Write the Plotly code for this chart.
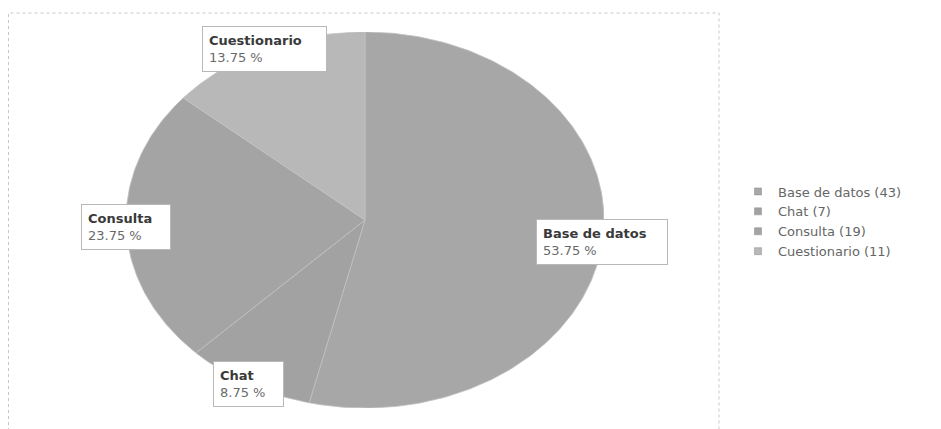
import numpy as np
import plotly.graph_objects as go

# ---- data ----
categories = ["Base de datos", "Chat", "Consulta", "Cuestionario"]
counts = [43, 7, 19, 11]
percent_labels = ["53.75 %", "8.75 %", "23.75 %", "13.75 %"]
legend_labels = ["Base de datos (43)", "Chat (7)", "Consulta (19)", "Cuestionario (11)"]

# ---- style ----
slice_colors = ["#a7a7a7", "#a2a2a2", "#a4a4a4", "#b8b8b8"]
label_box_widths = [132, 71, 90, 125]
OFF = 8  # page body margin
W, H = 941, 429
# page-pixel extents of the pie
PIE_L, PIE_R, PIE_T, PIE_B = 126, 604, 32, 408
ML, MT = PIE_L - OFF, PIE_T - OFF
MR = W - (PIE_R - OFF)
MB = H - (PIE_B - OFF)
PW, PH = PIE_R - PIE_L, PIE_B - PIE_T


def px_x(px):
    return (px - PIE_L) / PW


def px_y(py):
    return (PIE_B - py) / PH


fig = go.Figure()

total = float(sum(counts))
fractions = [c / total for c in counts]
start = 0.0
mids = []
for name, frac, col in zip(categories, fractions, slice_colors):
    end = start + frac
    t = np.linspace(start, end, max(int(frac * 400), 8)) * 2 * np.pi
    xs = np.concatenate([[0.0], np.sin(t), [0.0]])
    ys = np.concatenate([[0.0], np.cos(t), [0.0]])
    fig.add_trace(go.Scatter(
        x=xs, y=ys, mode="lines", fill="toself", fillcolor=col,
        line=dict(color="#c2c2c2", width=0.8), hoverinfo="skip",
        showlegend=False, name=name))
    mids.append((start + end) / 2 * 2 * np.pi)
    start = end

# legend entries
for lab, col in zip(legend_labels, slice_colors):
    fig.add_trace(go.Scatter(
        x=[None], y=[None], mode="markers", name=lab,
        marker=dict(symbol="square", size=7, color=col,
                    line=dict(color="#8a8a8a", width=0.5))))

# data labels at the slice mid-angle on the rim
PAD = 6
for name, pct, m, bw in zip(categories, percent_labels, mids, label_box_widths):
    fig.add_annotation(
        x=np.sin(m), y=np.cos(m), xref="x", yref="y",
        text=f"<b style='color:#3a3a3a'>{name}</b><br><span style='color:#6a6a6a'>{pct}</span>",
        showarrow=False, xanchor="center", yanchor="middle", align="left",
        width=bw - 2 * PAD - 2,
        font=dict(family="DejaVu Sans", size=13),
        bgcolor="white", bordercolor="#b8b8b8", borderwidth=1, borderpad=PAD)

# chart frame (dotted)
fig.add_shape(type="rect", xref="paper", yref="paper",
              x0=px_x(8.5), x1=px_x(719), y0=px_y(445), y1=px_y(13),
              line=dict(color="#c6c6c6", width=1, dash="dot"), layer="below")

fig.update_layout(
    width=W, height=H,
    margin=dict(l=ML, r=MR, t=MT, b=MB),
    paper_bgcolor="white", plot_bgcolor="white",
    xaxis=dict(range=[-1, 1], visible=False, fixedrange=True),
    yaxis=dict(range=[-1, 1], visible=False, fixedrange=True),
    showlegend=True,
    legend=dict(x=px_x(738), y=px_y(176.5), xanchor="left", yanchor="top",
                font=dict(family="DejaVu Sans", size=13, color="#666666"),
                itemwidth=30, bgcolor="rgba(0,0,0,0)", tracegroupgap=0),
)

fig.write_html("out.html")
